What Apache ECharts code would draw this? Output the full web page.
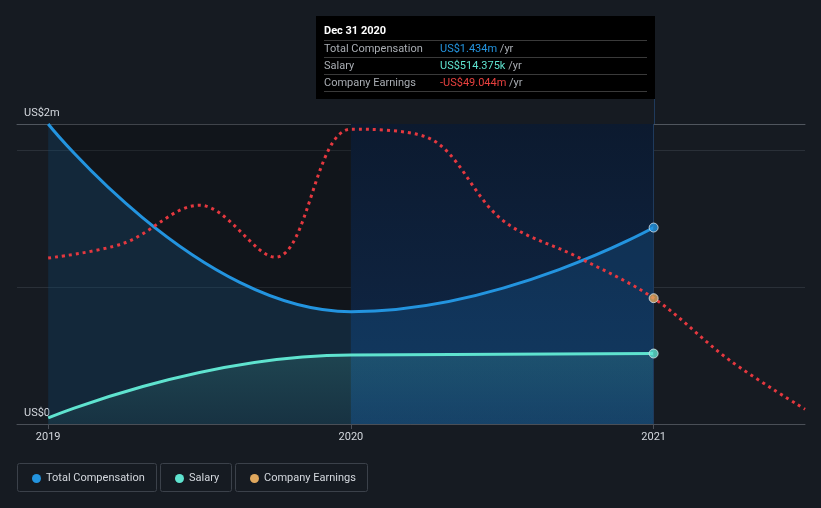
<!DOCTYPE html>
<html><head><meta charset="utf-8">
<script src="https://cdn.jsdelivr.net/npm/echarts@6/dist/echarts.min.js"></script>
<style>html,body{margin:0;padding:0;background:#161b22;}#c{width:821px;height:508px;}</style>
</head><body><div id="c"></div>
<script>
// ---- data ----
const compYears = [2019, 2020, 2021];
const totalComp = [2.19, 0.82, 1.434];          // US$ m
const salary = [0.044, 0.504, 0.514375];        // US$ m
const earnYears = [2019, 2019.25, 2019.5, 2019.75, 2020, 2020.25, 2020.5, 2020.75, 2021, 2021.25, 2021.5];
const earnings = [-39.0, -35.3, -25.8, -38.8, -6.8, -8.8, -29.5, -38.8, -49.044, -64.5, -76.8]; // US$ m
const xTickValues = [2019, 2020, 2021];
const yTickLabels = ['US$0', 'US$2m'];
const seriesNames = ['Total Compensation', 'Salary', 'Company Earnings'];
const tipDate = 'Dec 31 2020';
const tipValues = ['US$1.434m', 'US$514.375k', '-US$49.044m'];
const focusYear = 2021;

const C_TC = '#2394df', C_SAL = '#5fe3cf', C_EARN = '#e5383f', C_EARN_DOT = '#e0a85e';
const FONT = 'Roboto, "Noto Sans", sans-serif';
const FS = 11;

const pairs = (xs, ys) => xs.map((x, i) => [x, ys[i]]);
const focusPoint = (xs, ys, color) => {
  const i = xs.indexOf(focusYear);
  return [{ value: [xs[i], ys[i]], itemStyle: { color: color } }];
};

const chart = echarts.init(document.getElementById('c'), null, { renderer: 'canvas' });
const grid = { left: 17, right: 16, top: 124, bottom: 84 };
const f = (w) => (w ? w + ' ' : '') + FS + 'px ' + FONT;

const markerStyle = { borderColor: '#d8e2ea', borderWidth: 1 };

const option = {
  backgroundColor: '#161b22',
  animation: false,
  textStyle: { fontFamily: FONT },
  grid: grid,
  xAxis: [{
    type: 'value', min: 2018.897, max: 2021.5,
    axisLine: { show: true, lineStyle: { color: '#4a4f57', width: 1 } },
    axisTick: { show: true, customValues: xTickValues, length: 5, lineStyle: { color: '#4a4f57' } },
    axisLabel: { customValues: xTickValues, color: '#d4d8de', fontSize: FS, margin: 8, formatter: v => String(Math.round(v)) },
    splitLine: { show: false }
  }, {
    type: 'value', position: 'top', min: 2018.897, max: 2021.5,
    axisLine: { show: true, lineStyle: { color: '#50565e', width: 1 } },
    axisTick: { show: false }, axisLabel: { show: false }, splitLine: { show: false }
  }],
  yAxis: [{
    type: 'value', min: 0, max: 2.19, interval: 1,
    axisLine: { show: false }, axisTick: { show: false }, axisLabel: { show: false },
    splitLine: { show: true, lineStyle: { color: '#2a3038', width: 1 } }
  }, {
    type: 'value', min: -80.5, max: -5.5, show: false,
    splitLine: { show: false }
  }],
  legend: [
    { data: [seriesNames[0]], left: 27, top: 468 },
    { data: [seriesNames[1]], left: 170, top: 468 },
    { data: [seriesNames[2]], left: 245, top: 468 }
  ].map(l => Object.assign(l, {
    icon: 'circle', itemWidth: 9, itemHeight: 9, itemGap: 0, itemTextGap: 7,
    textStyle: { color: '#d4d8de', fontSize: FS, fontFamily: FONT },
    selectedMode: false
  })),
  series: [{
    name: seriesNames[0], type: 'line', xAxisIndex: 0, yAxisIndex: 0,
    data: pairs(compYears, totalComp),
    smooth: 0.5, smoothMonotone: 'x', showSymbol: false, symbol: 'none',
    itemStyle: { color: C_TC },
    lineStyle: { color: C_TC, width: 3 },
    areaStyle: { color: 'rgba(35,150,235,0.22)' },
    z: 3,
    markArea: {
      silent: true,
      data: [
        [{ xAxis: 2019, itemStyle: { color: 'rgba(0,0,0,0.2)' } }, { xAxis: 2020 }],
        [{ xAxis: 2020, itemStyle: { color: new echarts.graphic.LinearGradient(0, 0, 0, 1, [
          { offset: 0, color: '#0c1a2f' }, { offset: 1, color: '#10294a' }]) } }, { xAxis: 2021 }]
      ]
    },
    markLine: {
      silent: true, symbol: 'none', label: { show: false },
      lineStyle: { color: '#1f3a5c', type: 'solid', width: 1 },
      data: [{ xAxis: focusYear }]
    }
  }, {
    name: seriesNames[1], type: 'line', xAxisIndex: 0, yAxisIndex: 0,
    data: pairs(compYears, salary),
    smooth: 0.5, smoothMonotone: 'x', showSymbol: false, symbol: 'none',
    itemStyle: { color: C_SAL },
    lineStyle: { color: C_SAL, width: 3 },
    areaStyle: { color: new echarts.graphic.LinearGradient(0, 0, 0, 1, [
      { offset: 0, color: 'rgba(95,227,207,0.22)' }, { offset: 1, color: 'rgba(95,227,207,0.08)' }]) },
    z: 4
  }, {
    name: seriesNames[2], type: 'line', xAxisIndex: 0, yAxisIndex: 1,
    data: pairs(earnYears, earnings),
    smooth: 0.35, showSymbol: false, symbol: 'none',
    itemStyle: { color: C_EARN_DOT },
    lineStyle: { color: C_EARN, width: 3, type: [3, 4], cap: 'butt' },
    z: 5
  }, {
    type: 'scatter', xAxisIndex: 0, yAxisIndex: 0, symbol: 'circle', symbolSize: 9, clip: false,
    itemStyle: markerStyle, z: 10, silent: true,
    data: focusPoint(compYears, totalComp, C_TC).concat(focusPoint(compYears, salary, C_SAL))
  }, {
    type: 'scatter', xAxisIndex: 0, yAxisIndex: 1, symbol: 'circle', symbolSize: 9, clip: false,
    itemStyle: markerStyle, z: 10, silent: true,
    data: focusPoint(earnYears, earnings, C_EARN_DOT)
  }],
  graphic: [
    { type: 'text', left: 24, top: 108, style: { text: yTickLabels[1], fill: '#d4d8de', font: f() } },
    { type: 'text', left: 24, top: 408, style: { text: yTickLabels[0], fill: '#d4d8de', font: f() } },
    { type: 'line', shape: { x1: 654.5, y1: 99, x2: 654.5, y2: 124 }, style: { stroke: '#1f3a5c', lineWidth: 1 } },
    // legend boxes
    { type: 'rect', shape: { x: 17.5, y: 463.5, width: 139, height: 28, r: 2 }, style: { fill: 'none', stroke: '#3b414a', lineWidth: 1 }, z: -1 },
    { type: 'rect', shape: { x: 160.5, y: 463.5, width: 71, height: 28, r: 2 }, style: { fill: 'none', stroke: '#3b414a', lineWidth: 1 }, z: -1 },
    { type: 'rect', shape: { x: 235.5, y: 463.5, width: 132, height: 28, r: 2 }, style: { fill: 'none', stroke: '#3b414a', lineWidth: 1 }, z: -1 },
    // tooltip box
    { type: 'group', left: 316, top: 16, z: 100, children: [
      { type: 'rect', shape: { x: 0, y: 0, width: 339, height: 83 }, style: { fill: '#000' } },
      { type: 'text', x: 8, y: 10, style: { text: tipDate, fill: '#ffffff', font: f('bold') } },
      { type: 'line', shape: { x1: 8, y1: 24.5, x2: 331, y2: 24.5 }, style: { stroke: '#3a3a3a', lineWidth: 1 } },
      { type: 'line', shape: { x1: 8, y1: 41.5, x2: 331, y2: 41.5 }, style: { stroke: '#3a3a3a', lineWidth: 1 } },
      { type: 'line', shape: { x1: 8, y1: 58.5, x2: 331, y2: 58.5 }, style: { stroke: '#3a3a3a', lineWidth: 1 } },
      { type: 'line', shape: { x1: 8, y1: 75.5, x2: 331, y2: 75.5 }, style: { stroke: '#3a3a3a', lineWidth: 1 } },
      { type: 'text', x: 8, y: 28, style: { text: seriesNames[0], fill: '#a9adb3', font: f() } },
      { type: 'text', x: 8, y: 45, style: { text: 'Salary', fill: '#a9adb3', font: f() } },
      { type: 'text', x: 8, y: 62, style: { text: seriesNames[2], fill: '#a9adb3', font: f() } },
      { type: 'text', x: 124, y: 28, style: { text: '{v|' + tipValues[0] + '} {u|/yr}', font: f(),
        rich: { v: { fill: C_TC, font: f() }, u: { fill: '#a9adb3', font: f() } } } },
      { type: 'text', x: 124, y: 45, style: { text: '{v|' + tipValues[1] + '} {u|/yr}', font: f(),
        rich: { v: { fill: C_SAL, font: f() }, u: { fill: '#a9adb3', font: f() } } } },
      { type: 'text', x: 124, y: 62, style: { text: '{v|' + tipValues[2] + '} {u|/yr}', font: f(),
        rich: { v: { fill: '#e8413f', font: f() }, u: { fill: '#a9adb3', font: f() } } } }
    ] }
  ]
};
chart.setOption(option);
</script>
</body></html>
